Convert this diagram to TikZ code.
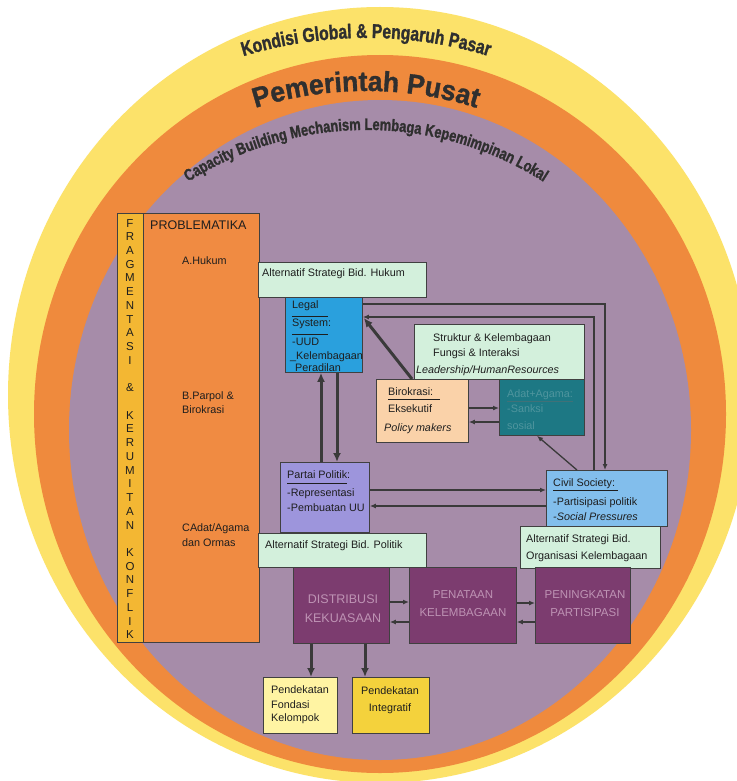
\documentclass[tikz,border=0pt]{standalone}
\usepackage{fontspec}
\setmainfont{Liberation Sans}
\newfontfamily\arcfont[FakeStretch=0.78,FakeBold=1.4]{Liberation Sans}
\newfontfamily\bigarcfont[FakeStretch=0.95,FakeBold=1.2]{Liberation Sans}
\usetikzlibrary{arrows.meta,calc,decorations.text}

% palette
\definecolor{ringY}{HTML}{FCE26A}
\definecolor{ringO}{HTML}{EF8A3D}
\definecolor{ringP}{HTML}{A68CA9}
\definecolor{fragY}{HTML}{F3B733}
\definecolor{probO}{HTML}{F08B42}
\definecolor{mint}{HTML}{D3F0DC}
\definecolor{legalB}{HTML}{2AA0DD}
\definecolor{partaiP}{HTML}{9D95DC}
\definecolor{civilB}{HTML}{82BEEC}
\definecolor{biroP}{HTML}{FAD2A9}
\definecolor{adatT}{HTML}{1D7884}
\definecolor{adatTxt}{HTML}{4F959E}
\definecolor{plum}{HTML}{7C3C6F}
\definecolor{plumTxt}{HTML}{BE93B4}
\definecolor{paleY}{HTML}{FFF4A3}
\definecolor{goldY}{HTML}{F4D23C}
\definecolor{ink}{HTML}{1E1E1E}
\definecolor{wire}{HTML}{3A3A3A}
\definecolor{arcink}{HTML}{2F2F2F}

\begin{document}
\begin{tikzpicture}[x=1pt,y=-1pt,
  box/.style={draw=ink!85, line width=0.8pt, inner sep=0pt, anchor=north west},
  lbl/.style={inner sep=0pt, anchor=base west, text=ink, font=\fontsize{10.8}{13}\selectfont},
  lblc/.style={inner sep=0pt, anchor=base, text=ink, font=\fontsize{10.8}{13}\selectfont},
  rule/.style={draw=ink, line width=0.7pt},
  wire/.style={draw=wire, line width=1.3pt, -{Latex[length=6pt,width=5pt]}},
  heavy/.style={draw=wire, line width=3pt, -{Latex[length=9pt,width=8pt]}},
  ringtext/.style={decorate, decoration={text along path, text align=center, text={#1}}}
]
\fill[white] (0,0) rectangle (736,781);
\useasboundingbox (0,0) rectangle (736,781);

% three nested rings
\fill[ringY] (380,395) ellipse [x radius=372, y radius=388];
\fill[ringO] (380,414) ellipse [x radius=346, y radius=359];
\fill[ringP] (380,430) ellipse [x radius=311, y radius=330];

% ring captions
\path[ringtext={|\arcfont\bfseries\fontsize{20}{20}\selectfont\color{arcink}|Kondisi Global {\&} Pengaruh Pasar}]
  ($(366,460)+(-150:422)$) arc[start angle=-150, end angle=-30, radius=422];
\path[ringtext={|\bigarcfont\bfseries\fontsize{28}{28}\selectfont\color{arcink}|Pemerintah Pusat}]
  ($(366,460)+(-150:369)$) arc[start angle=-150, end angle=-30, radius=369];
\path[ringtext={|\arcfont\bfseries\fontsize{16.5}{16.5}\selectfont\color{arcink}|Capacity Building Mechanism Lembaga Kepemimpinan Lokal}]
  ($(366,460)+(-150:330)$) arc[start angle=-150, end angle=-30, radius=330];

% left column
\node[box, fill=fragY, minimum width=26pt, minimum height=429pt] (frag) at (117,213) {};
\node[box, fill=probO, minimum width=116pt, minimum height=429pt] (prob) at (143,213) {};

% boxes
\node[box, fill=mint, minimum width=168pt, minimum height=35pt] (hukum) at (258,262) {};
\node[box, fill=legalB, minimum width=77pt, minimum height=75pt] (legal) at (285,297) {};
\node[box, fill=mint, minimum width=170pt, minimum height=55pt] (struk) at (414,324) {};
\node[box, fill=biroP, minimum width=92pt, minimum height=63pt] (biro) at (376,379) {};
\node[box, fill=adatT, minimum width=85pt, minimum height=56pt] (adat) at (499,379) {};
\node[box, fill=partaiP, minimum width=89pt, minimum height=70pt] (partai) at (280,462) {};
\node[box, fill=civilB, minimum width=121pt, minimum height=56pt] (cs) at (546,470) {};
\node[box, fill=mint, minimum width=168pt, minimum height=34pt] (politik) at (258,533) {};
\node[box, fill=mint, minimum width=140pt, minimum height=42pt] (organ) at (520,526) {};
\node[box, fill=plum, minimum width=96pt, minimum height=76pt] (distr) at (293,567) {};
\node[box, fill=plum, minimum width=107pt, minimum height=76pt] (penat) at (409,567) {};
\node[box, fill=plum, minimum width=95pt, minimum height=76pt] (pening) at (535,567) {};
\node[box, fill=paleY, minimum width=74pt, minimum height=56pt] (fond) at (263,677) {};
\node[box, fill=goldY, minimum width=77pt, minimum height=56pt] (integ) at (352,677) {};

% connectors
\draw[wire] ($(legal.north east)+(0,7)$) -| ($(cs.north west)+(59,0)$);
\draw[wire] ($(cs.north west)+(48,0)$) |- ($(legal.north east)+(0,20)$);
\draw[heavy] ($(biro.north west)+(36,0)$) -- ($(legal.north east)+(1,21)$);
\draw[wire] ($(biro.north east)+(0,29)$) -- ($(adat.north west)+(0,29)$);
\draw[wire] ($(adat.north west)+(0,43)$) -- ($(biro.north east)+(0,43)$);
\draw[wire] ($(cs.north west)+(31,0)$) -- ($(adat.south west)+(38,0)$);
\draw[heavy] ($(partai.north west)+(41,0)$) -- ($(legal.south west)+(36,0)$);
\draw[heavy] ($(legal.south west)+(52,0)$) -- ($(partai.north west)+(57,0)$);
\draw[wire] ($(partai.north east)+(0,28)$) -- ($(cs.north west)+(0,20)$);
\draw[wire] ($(cs.north west)+(0,36)$) -- ($(partai.north east)+(0,44)$);
\draw[wire] ($(distr.north east)+(0,35)$) -- ($(penat.north west)+(0,35)$);
\draw[wire] ($(penat.north west)+(0,55)$) -- ($(distr.north east)+(0,55)$);
\draw[wire] ($(penat.north east)+(0,36)$) -- ($(pening.north west)+(0,36)$);
\draw[wire] ($(pening.north west)+(0,55)$) -- ($(penat.north east)+(0,55)$);
\draw[heavy] ($(distr.south west)+(18,0)$) -- ($(fond.north west)+(48,0)$);
\draw[heavy] ($(distr.south west)+(72,0)$) -- ($(integ.north west)+(13,0)$);

% vertical caption of the left strip
\node[inner sep=0pt, align=center, text=ink, font=\fontsize{11.5}{13.73}\selectfont] (fragT) at (130,429)
  {F\\R\\A\\G\\M\\E\\N\\T\\A\\S\\I\\[13.73pt]\&\\[13.73pt]K\\E\\R\\U\\M\\I\\T\\A\\N\\[13.73pt]K\\O\\N\\F\\L\\I\\K};

% problem column
\node[lbl, font=\fontsize{12.5}{14}\selectfont] (probT) at (150,229) {PROBLEMATIKA};
\node[lbl] (pA) at (182,264) {A.Hukum};
\node[lbl] (pB1) at (182,399) {B.Parpol \&};
\node[lbl] (pB2) at (182,413) {Birokrasi};
\node[lbl] (pC1) at (182,531) {CAdat/Agama};
\node[lbl] (pC2) at (182,546) {dan Ormas};

% strategy boxes
\node[lbl] (hukumT) at (262,276) {Alternatif Strategi Bid. Hukum};
\node[lbl] (politikT) at (265,548) {Alternatif Strategi Bid. Politik};
\node[lbl] (organT1) at (526,542) {Alternatif Strategi Bid.};
\node[lbl] (organT2) at (526,559) {Organisasi Kelembagaan};

% legal system
\node[lbl] (legalT1) at (292,308) {Legal};
\draw[rule] (292,316) -- (328,316);
\node[lbl] (legalT2) at (292,326) {System:};
\draw[rule] (292,334) -- (328,334);
\node[lbl] (legalT3) at (292,345) {-UUD};
\node[lbl] (legalT4) at (290,359) {\_Kelembagaan};
\node[lbl] (legalT5) at (295,371) {Peradilan};

% structure
\node[lbl] (strukT1) at (433,341) {Struktur \& Kelembagaan};
\node[lbl] (strukT2) at (433,356) {Fungsi \& Interaksi};
\node[lbl, font=\fontsize{10.8}{13}\selectfont\itshape] (strukT3) at (416,373) {Leadership/HumanResources};

% bureaucracy
\node[lbl] (biroT1) at (388,395) {Birokrasi:};
\draw[rule] (388,399) -- (440,399);
\node[lbl] (biroT2) at (388,412) {Eksekutif};
\node[lbl, font=\fontsize{10.8}{13}\selectfont\itshape] (biroT3) at (384,431) {Policy makers};

% custom and religion
\node[lbl, text=adatTxt] (adatT1) at (507,397) {Adat+Agama:};
\draw[rule, draw=adatTxt!70!ink] (507,401) -- (573,401);
\node[lbl, text=adatTxt] (adatT2) at (507,412) {-Sanksi};
\node[lbl, text=adatTxt] (adatT3) at (507,429) {sosial};

% political party
\node[lbl] (partaiT1) at (287,478) {Partai Politik:};
\draw[rule] (287,483) -- (347,483);
\node[lbl] (partaiT2) at (287,496) {-Representasi};
\node[lbl] (partaiT3) at (287,511) {-Pembuatan UU};

% civil society
\node[lbl] (csT1) at (553,486) {Civil Society:};
\draw[rule] (553,490) -- (618,490);
\node[lbl] (csT2) at (553,505) {-Partisipasi politik};
\node[lbl, font=\fontsize{10.8}{13}\selectfont\itshape] (csT3) at (553,520) {-Social Pressures};

% outcome boxes
\node[lblc, text=plumTxt, font=\fontsize{12.5}{14}\selectfont] (distrT1) at (343,603) {DISTRIBUSI};
\node[lblc, text=plumTxt, font=\fontsize{12.5}{14}\selectfont] (distrT2) at (343,622) {KEKUASAAN};
\node[lblc, text=plumTxt, font=\fontsize{11.5}{14}\selectfont] (penatT1) at (463,598) {PENATAAN};
\node[lblc, text=plumTxt, font=\fontsize{11.5}{14}\selectfont] (penatT2) at (463,616) {KELEMBAGAAN};
\node[lblc, text=plumTxt, font=\fontsize{11.5}{14}\selectfont] (peningT1) at (585,598) {PENINGKATAN};
\node[lblc, text=plumTxt, font=\fontsize{11.5}{14}\selectfont] (peningT2) at (585,616) {PARTISIPASI};

% approaches
\node[lbl] (fondT1) at (271,693) {Pendekatan};
\node[lbl] (fondT2) at (271,708) {Fondasi};
\node[lbl] (fondT3) at (271,721) {Kelompok};
\node[lblc] (integT1) at (390,694) {Pendekatan};
\node[lblc] (integT2) at (390,711) {Integratif};
\end{tikzpicture}
\end{document}
